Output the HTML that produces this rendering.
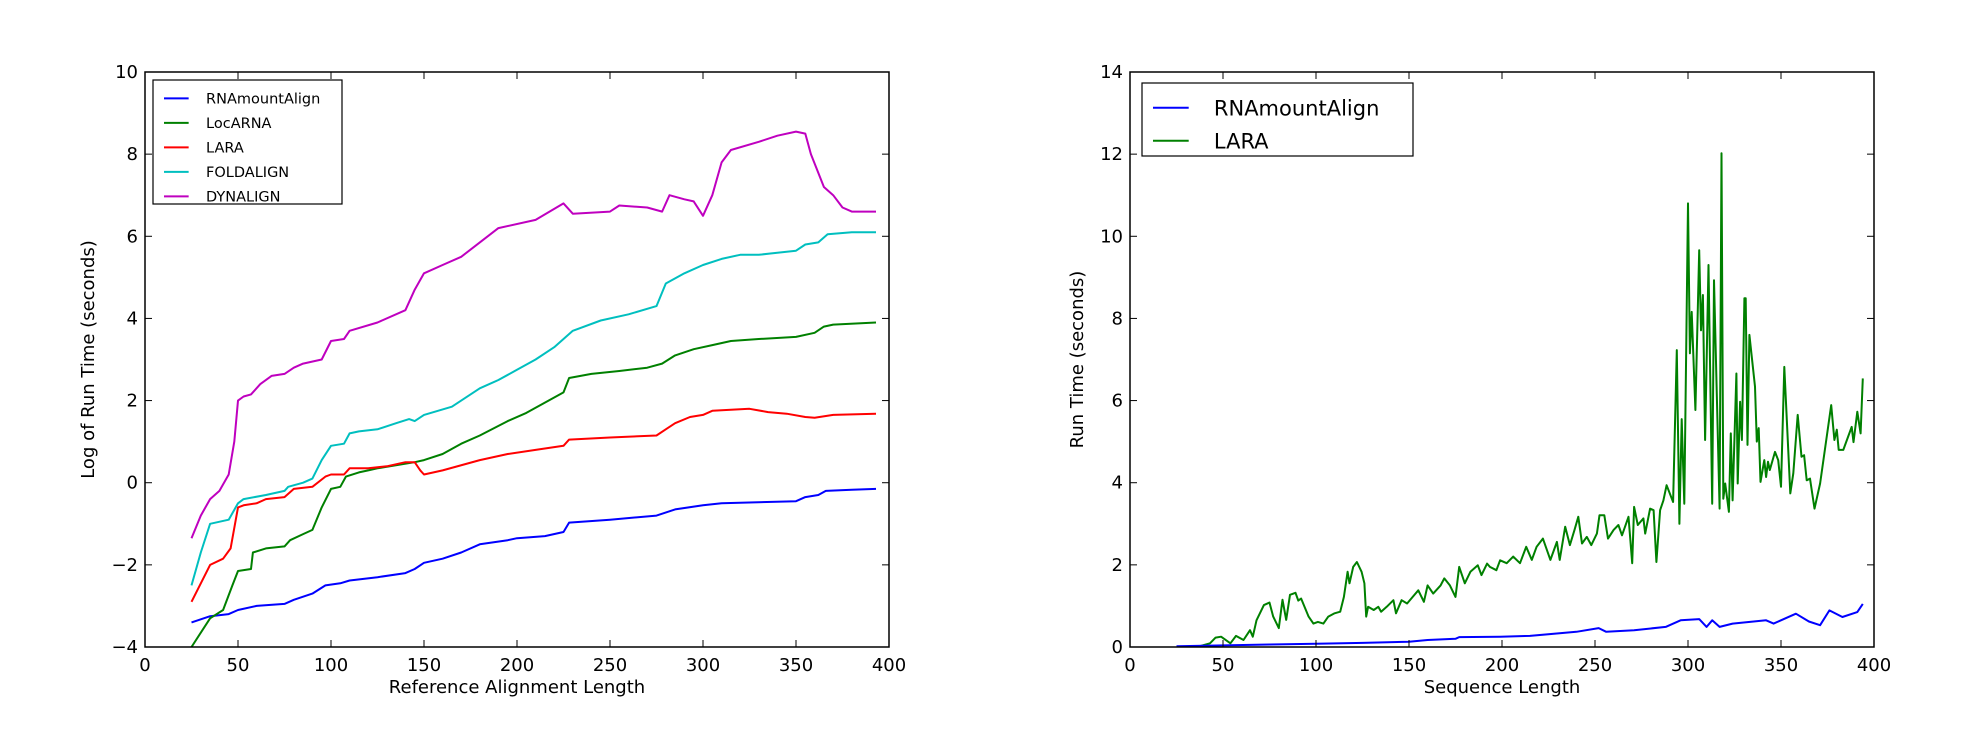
<!DOCTYPE html>
<html><head><meta charset="utf-8">
<style>
html,body{margin:0;padding:0;background:#fff;}
svg{display:block;font-family:"DejaVu Sans","Liberation Sans",sans-serif;}
</style></head>
<body>
<svg id="fig" width="1970" height="743" viewBox="0 0 1970 743" xmlns="http://www.w3.org/2000/svg">
<rect width="1970" height="743" fill="#fff"/>
</svg>
<script>
// ---------- Left chart data ----------
const leftXTicks = [0,50,100,150,200,250,300,350,400];
const leftYTicks = [-4,-2,0,2,4,6,8,10];
const rnaX = [25,35,45,50,60,75,80,90,97,105,110,125,140,145,150,160,170,180,195,200,215,225,228,250,275,285,300,310,350,355,362,366,380,393];
const rnaY = [-3.4,-3.25,-3.2,-3.1,-3.0,-2.95,-2.85,-2.7,-2.5,-2.45,-2.38,-2.3,-2.2,-2.1,-1.95,-1.85,-1.7,-1.5,-1.4,-1.35,-1.3,-1.2,-0.97,-0.9,-0.8,-0.65,-0.55,-0.5,-0.45,-0.35,-0.3,-0.2,-0.17,-0.15];
const locX = [25,35,42,47,50,57,58,65,75,78,85,90,95,100,105,108,115,120,125,145,150,160,170,180,195,205,215,225,228,240,255,270,278,285,295,305,315,330,350,360,365,370,393];
const locY = [-4.0,-3.3,-3.1,-2.5,-2.15,-2.1,-1.7,-1.6,-1.55,-1.4,-1.25,-1.15,-0.6,-0.15,-0.1,0.15,0.25,0.3,0.35,0.5,0.55,0.7,0.95,1.15,1.5,1.7,1.95,2.2,2.55,2.65,2.72,2.8,2.9,3.1,3.25,3.35,3.45,3.5,3.55,3.65,3.8,3.85,3.9];
const laraX = [25,35,42,46,50,53,60,65,75,80,90,97,100,107,110,120,130,140,145,148,150,160,180,195,210,225,228,250,275,280,285,293,300,305,325,335,345,355,360,370,393];
const laraY = [-2.9,-2.0,-1.85,-1.6,-0.6,-0.55,-0.5,-0.4,-0.35,-0.15,-0.1,0.15,0.2,0.2,0.35,0.35,0.4,0.5,0.5,0.3,0.2,0.3,0.55,0.7,0.8,0.9,1.05,1.1,1.15,1.3,1.45,1.6,1.65,1.75,1.8,1.72,1.68,1.6,1.58,1.65,1.68];
const foldX = [25,30,35,45,50,53,65,75,77,85,90,95,100,107,110,115,125,135,142,145,150,165,170,180,190,200,210,220,230,245,260,275,280,290,300,310,320,330,340,350,355,362,367,380,393];
const foldY = [-2.5,-1.7,-1.0,-0.9,-0.5,-0.4,-0.3,-0.2,-0.1,0.0,0.1,0.55,0.9,0.95,1.2,1.25,1.3,1.45,1.55,1.5,1.65,1.85,2.0,2.3,2.5,2.75,3.0,3.3,3.7,3.95,4.1,4.3,4.85,5.1,5.3,5.45,5.55,5.55,5.6,5.65,5.8,5.85,6.05,6.1,6.1];
const dynX = [25,30,35,40,45,48,50,53,57,62,68,75,80,85,95,100,107,110,125,140,145,150,160,170,180,190,210,225,230,250,255,270,278,282,290,295,300,305,310,315,330,340,350,355,358,365,370,375,380,393];
const dynY = [-1.35,-0.8,-0.4,-0.2,0.2,1.0,2.0,2.1,2.15,2.4,2.6,2.65,2.8,2.9,3.0,3.45,3.5,3.7,3.9,4.2,4.7,5.1,5.3,5.5,5.85,6.2,6.4,6.8,6.55,6.6,6.75,6.7,6.6,7.0,6.9,6.85,6.5,7.0,7.8,8.1,8.3,8.45,8.55,8.5,8.0,7.2,7.0,6.7,6.6,6.6];
const leftNames = ["RNAmountAlign","LocARNA","LARA","FOLDALIGN","DYNALIGN"];
const leftColors = ["#0000ff","#008000","#ff0000","#00bfbf","#bf00bf"];

// ---------- Right chart data ----------
const rightXTicks = [0,50,100,150,200,250,300,350,400];
const rightYTicks = [0,2,4,6,8,10,12,14];
const rBlueX = [25,50,75,100,125,150,160,175,177,199,215,240,252,256,271,288,296,306,310,313,317,324,342,346,358,365,371,376,383,391,394];
const rBlueY = [0.02,0.04,0.06,0.08,0.1,0.13,0.17,0.2,0.24,0.25,0.27,0.37,0.46,0.37,0.41,0.49,0.65,0.68,0.49,0.65,0.49,0.57,0.65,0.57,0.81,0.62,0.53,0.89,0.73,0.85,1.05];
const rGreenX = [25,36,43,46,49,54,57,61,64.5,66,68,72,75,77,80,82,84,86,89,90.5,92,96,98.6,101,104,106.6,110,113,115,117,118,120,122,124.5,126,127,128,131,133.5,135,138,141.6,143,146,149,152,155,158,160,163,167,169,172,175,177,180,183,187,189,192,193.5,197,199,202.5,206,209.7,213,216,218.6,222,226,229.5,231,234,236.5,239,241,243,245.6,248,251,252.4,255,257,260,262.6,264.5,268,270,271,273,276,277,279.6,281.5,283,285,286.8,288.5,292,294,295.4,296.6,298,300,301,302,304,306,307,308,309.2,311,313,314,317,318,319,320,322,323,324,326,326.7,328,329,330.3,331,332,333,336,337,338,339,341,342,343,344,346.8,348.5,350,351.8,355,356.6,359,361,362.4,363.8,365.6,368,371,377,378.7,380,381,383.5,388,389,391,392.8,394];
const rGreenY = [0.0,0.0,0.09,0.23,0.25,0.09,0.27,0.17,0.41,0.25,0.65,1.02,1.08,0.74,0.46,1.15,0.66,1.27,1.32,1.13,1.18,0.74,0.57,0.61,0.57,0.74,0.82,0.86,1.22,1.83,1.55,1.95,2.07,1.83,1.55,0.74,0.98,0.9,0.98,0.86,0.98,1.14,0.82,1.14,1.06,1.22,1.38,1.1,1.5,1.3,1.5,1.67,1.5,1.22,1.95,1.55,1.83,1.99,1.75,2.03,1.95,1.87,2.11,2.04,2.2,2.04,2.44,2.12,2.44,2.64,2.12,2.56,2.12,2.93,2.48,2.85,3.17,2.52,2.68,2.48,2.76,3.21,3.21,2.64,2.85,2.97,2.72,3.17,2.04,3.41,2.97,3.13,2.76,3.37,3.33,2.07,3.33,3.57,3.94,3.53,7.23,3.0,5.55,3.49,10.8,7.15,8.16,5.77,9.66,7.71,8.57,5.04,9.3,3.49,8.93,3.37,12.02,3.61,3.98,3.29,5.2,3.57,6.66,3.98,5.97,5.04,8.49,8.49,4.92,7.6,6.34,5.0,5.33,4.02,4.55,4.14,4.51,4.31,4.75,4.55,3.9,6.82,3.74,4.23,5.65,4.63,4.67,4.06,4.1,3.37,3.98,5.89,5.04,5.29,4.8,4.8,5.36,4.99,5.73,5.2,6.54];
const rightNames = ["RNAmountAlign","LARA"];
const rightColors = ["#0000ff","#008000"];

const NS = "http://www.w3.org/2000/svg";
const svg = document.getElementById('fig');
function mk(tag, attrs, parent){
  const e = document.createElementNS(NS, tag);
  for (const k in attrs) e.setAttribute(k, attrs[k]);
  (parent||svg).appendChild(e);
  return e;
}
function axisFns(x0,x1,y0,y1,xmin,xmax,ymin,ymax){
  return {
    sx: v => x0 + (v - xmin) / (xmax - xmin) * (x1 - x0),
    sy: v => y1 - (v - ymin) / (ymax - ymin) * (y1 - y0)
  };
}
function drawAxes(name, box, xt, yt, fx, fy, xlabel, ylabel, ylabX){
  const g = mk('g', {});
  
  
  return g;
}
function frame(g, box, xt, yt, fx, fy, xlabel, ylabel, ylabX, prefix){
  const [x0,y0,x1,y1] = box;
  xt.forEach(v => {
    const x = fx(v);
    const t1 = mk('line',{x1:x,x2:x,y1:y1,y2:y1-7,stroke:'#000','stroke-width':1},g);
    
    
    mk('line',{x1:x,x2:x,y1:y0,y2:y0+7,stroke:'#000','stroke-width':1},g);
    const t = mk('text',{x:x,y:y1+24,'font-size':18,'text-anchor':'middle'},g);
    t.textContent = String(v).replace('-', '\u2212');
    
    
  });
  yt.forEach(v => {
    const y = fy(v);
    const t1 = mk('line',{x1:x0,x2:x0+7,y1:y,y2:y,stroke:'#000','stroke-width':1},g);
    
    
    mk('line',{x1:x1,x2:x1-7,y1:y,y2:y,stroke:'#000','stroke-width':1},g);
    const t = mk('text',{x:x0-7,y:y+6,'font-size':18,'text-anchor':'end'},g);
    t.textContent = String(v).replace('-', '\u2212');
    
    
  });
  const xl = mk('text',{x:(x0+x1)/2,y:y1+46,'font-size':18,'text-anchor':'middle'},g);
  xl.textContent = xlabel;
  
  
  const cy = (y0+y1)/2;
  const yl = mk('text',{x:ylabX,y:cy,'font-size':18,'text-anchor':'middle',transform:`rotate(-90 ${ylabX} ${cy})`},g);
  yl.textContent = ylabel;
  
  
}
function series(g, xs, ys, fx, fy, color, name, w){
  const d = xs.map((v,i)=>(i?'L':'M')+fx(v).toFixed(1)+' '+fy(ys[i]).toFixed(1)).join(' ');
  const p = mk('path',{d:d,fill:'none',stroke:color,'stroke-width':w||2,'stroke-linejoin':'round'},g);
  
  
}
function legend(g, x, y, w, h, names, colors, fs, rowH, prefix){
  const lg = mk('g',{},g);
  
  
  mk('rect',{x:x,y:y,width:w,height:h,fill:'#fff',stroke:'#000','stroke-width':1.2},lg);
  names.forEach((n,i)=>{
    const cy = y + rowH*0.75 + i*rowH;
    const e = mk('g',{},lg);
    
    
    mk('line',{x1:x+11,x2:x+11+fs*1.7,y1:cy,y2:cy,stroke:colors[i],'stroke-width':2},e);
    const t = mk('text',{x:x+11+fs*2.9,y:cy+fs*0.36,'font-size':fs},e);
    t.textContent = n;
  });
}

// Left chart
{
  const box=[145,72,889,647];
  const {sx,sy} = axisFns(145,889,72,647,0,400,-4,10);
  const g = mk('g',{});
  
  
  const clip = mk('clipPath',{id:'cl'},g); mk('rect',{x:145,y:72,width:744,height:575},clip);
  const sg = mk('g',{'clip-path':'url(#cl)'},g);
  series(sg, rnaX, rnaY, sx, sy, leftColors[0], 'line-rnamountalign');
  series(sg, locX, locY, sx, sy, leftColors[1], 'line-locarna');
  series(sg, laraX, laraY, sx, sy, leftColors[2], 'line-lara');
  series(sg, foldX, foldY, sx, sy, leftColors[3], 'line-foldalign');
  series(sg, dynX, dynY, sx, sy, leftColors[4], 'line-dynalign');
  mk('rect',{x:145,y:72,width:744,height:575,fill:'none',stroke:'#000','stroke-width':1.5},g);
  frame(g, box, leftXTicks, leftYTicks, sx, sy, 'Reference Alignment Length', 'Log of Run Time (seconds)', 94, 'left');
  legend(g, 153, 80, 189, 124, leftNames, leftColors, 14.5, 24.5, 'left');
}
// Right chart
{
  const box=[1130,72,1874,647];
  const {sx,sy} = axisFns(1130,1874,72,647,0,400,0,14);
  const g = mk('g',{});
  
  
  const clip = mk('clipPath',{id:'cr'},g); mk('rect',{x:1130,y:72,width:744,height:575},clip);
  const sg = mk('g',{'clip-path':'url(#cr)'},g);
  series(sg, rGreenX, rGreenY, sx, sy, rightColors[1], 'line-lara');
  series(sg, rBlueX, rBlueY, sx, sy, rightColors[0], 'line-rnamountalign');
  mk('rect',{x:1130,y:72,width:744,height:575,fill:'none',stroke:'#000','stroke-width':1.5},g);
  frame(g, box, rightXTicks, rightYTicks, sx, sy, 'Sequence Length', 'Run Time (seconds)', 1083, 'right');
  legend(g, 1142, 83, 271, 73, rightNames, rightColors, 21, 33, 'right');
}
</script>
</body></html>
